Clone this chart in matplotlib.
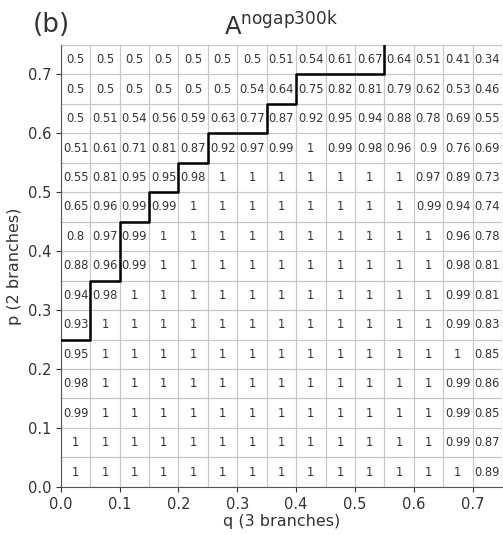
import matplotlib
matplotlib.use("Agg")
from matplotlib import pyplot as plt
import numpy as np

# cell values, top row is p = 0.70-0.75, columns q = 0.00 ... 0.70
rows_top_down = [
    [0.5, 0.5, 0.5, 0.5, 0.5, 0.5, 0.5, 0.51, 0.54, 0.61, 0.67, 0.64, 0.51, 0.41, 0.34],
    [0.5, 0.5, 0.5, 0.5, 0.5, 0.5, 0.54, 0.64, 0.75, 0.82, 0.81, 0.79, 0.62, 0.53, 0.46],
    [0.5, 0.51, 0.54, 0.56, 0.59, 0.63, 0.77, 0.87, 0.92, 0.95, 0.94, 0.88, 0.78, 0.69, 0.55],
    [0.51, 0.61, 0.71, 0.81, 0.87, 0.92, 0.97, 0.99, 1, 0.99, 0.98, 0.96, 0.9, 0.76, 0.69],
    [0.55, 0.81, 0.95, 0.95, 0.98, 1, 1, 1, 1, 1, 1, 1, 0.97, 0.89, 0.73],
    [0.65, 0.96, 0.99, 0.99, 1, 1, 1, 1, 1, 1, 1, 1, 0.99, 0.94, 0.74],
    [0.8, 0.97, 0.99, 1, 1, 1, 1, 1, 1, 1, 1, 1, 1, 0.96, 0.78],
    [0.88, 0.96, 0.99, 1, 1, 1, 1, 1, 1, 1, 1, 1, 1, 0.98, 0.81],
    [0.94, 0.98, 1, 1, 1, 1, 1, 1, 1, 1, 1, 1, 1, 0.99, 0.81],
    [0.93, 1, 1, 1, 1, 1, 1, 1, 1, 1, 1, 1, 1, 0.99, 0.83],
    [0.95, 1, 1, 1, 1, 1, 1, 1, 1, 1, 1, 1, 1, 1, 0.85],
    [0.98, 1, 1, 1, 1, 1, 1, 1, 1, 1, 1, 1, 1, 0.99, 0.86],
    [0.99, 1, 1, 1, 1, 1, 1, 1, 1, 1, 1, 1, 1, 0.99, 0.85],
    [1, 1, 1, 1, 1, 1, 1, 1, 1, 1, 1, 1, 1, 0.99, 0.87],
    [1, 1, 1, 1, 1, 1, 1, 1, 1, 1, 1, 1, 1, 1, 0.89],
]
q_vals = np.arange(15) * 0.05
p_vals = np.arange(15) * 0.05

# staircase boundary
stair_q = [0, 0.05, 0.1, 0.15, 0.2, 0.25, 0.35, 0.4, 0.55]
stair_p = [0.25, 0.35, 0.45, 0.5, 0.55, 0.6, 0.65, 0.7, 0.75]

vals = np.array(rows_top_down)[::-1]
step = 0.05

fig = plt.figure(figsize=(5.03, 5.35), dpi=100)
ax = fig.add_axes([0.121, 0.09, 0.877, 0.826])

txt_col = "#333333"
for i, p in enumerate(p_vals):
    for j, q in enumerate(q_vals):
        v = vals[i, j]
        s = "1" if v == 1 else ("%g" % v)
        ax.text(q + step / 2, p + step / 2, s, ha="center", va="center",
                fontsize=8.3, color=txt_col)

ax.step(stair_q, stair_p, where="post", color="black", lw=1.8, zorder=5)

ax.set_xlim(0, 0.75)
ax.set_ylim(0, 0.75)
ax.set_xticks(np.arange(0, 0.75, 0.1))
ax.set_yticks(np.arange(0, 0.75, 0.1))
ax.set_xticks(np.arange(0, 0.751, 0.05), minor=True)
ax.set_yticks(np.arange(0, 0.751, 0.05), minor=True)
ax.tick_params(which="minor", length=0)
ax.tick_params(which="major", colors=txt_col, labelsize=10.5)
ax.grid(which="both", color="#c8c8c8", lw=0.9)
ax.set_axisbelow(True)
for side in ["top", "right"]:
    ax.spines[side].set_visible(False)
for side in ["left", "bottom"]:
    ax.spines[side].set_color("#555555")

ax.set_xlabel("q (3 branches)", fontsize=11.5, color=txt_col, labelpad=2)
ax.set_ylabel("p (2 branches)", fontsize=11.5, color=txt_col)
ax.set_title(r"A$^{\mathrm{nogap300k}}$", fontsize=17.5, color=txt_col, pad=7)
fig.text(0.065, 0.94, "(b)", fontsize=19, color=txt_col)

fig.savefig("out.png", dpi=100)
